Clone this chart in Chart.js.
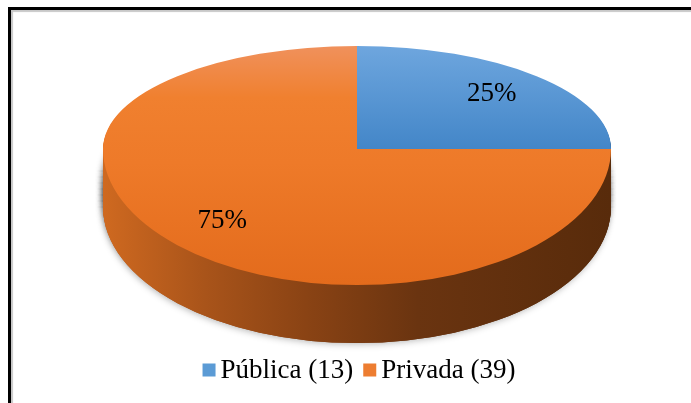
<!DOCTYPE html>
<html>
<head>
<meta charset="utf-8">
<script src="https://cdn.jsdelivr.net/npm/chart.js@4.4.1/dist/chart.umd.min.js"></script>
<style>
    html, body { margin: 0; padding: 0; background: #fff; }
    #wrap { position: relative; width: 691px; height: 403px; overflow: hidden; }
    #frame {
        position: absolute; left: 8px; top: 7px; width: 720px; height: 440px;
        border-top: 3px solid #000; border-left: 3px solid #000;
        box-shadow: inset 2px 2px 1px #c8c8c8;
    }
    canvas { position: absolute; left: 0; top: 0; }
</style>
</head>
<body>
<div id="wrap">
    <div id="frame"></div>
    <canvas id="chartTipo"></canvas>
</div>
<script>
// Dados do gráfico
var categorias = ['Pública', 'Privada'];
var quantidades = [13, 39];
var coresLegenda = ['#5b9bd5', '#ed7d31'];

// geometria do "3D" (elipse do topo e espessura)
var geo = { x: 357, y: 149, rx: 254, ryTop: 103, ryBot: 136, depth: 58, labelFrac: 0.75 };
var fonte = '27px "Liberation Serif", "Times New Roman", serif';

var rotulos = categorias.map(function (c, i) { return c + ' (' + quantidades[i] + ')'; });
var total = quantidades.reduce(function (a, b) { return a + b; }, 0);

var pie3d = {
    id: 'pie3d',
    beforeDatasetsDraw: function (chart) {
        var ctx = chart.ctx;
        var arcs = chart.getDatasetMeta(0).data;
        if (!arcs.length) return false;
        var cx = arcs[0].x, cy = arcs[0].y, R = arcs[0].outerRadius;
        var W = chart.width, H = chart.height;

        function paint(arc, fill) {
            var o = arc.options, keep = o.backgroundColor;
            o.backgroundColor = fill;
            arc.draw(ctx);
            o.backgroundColor = keep;
        }
        function half(top, dy, fills) {
            ctx.save();
            ctx.beginPath();
            if (top) ctx.rect(0, -10, W, geo.y + dy + 10.5);
            else ctx.rect(0, geo.y + dy - 0.5, W, H);
            ctx.clip();
            ctx.translate(geo.x, geo.y + dy);
            ctx.scale(geo.rx / R, (top ? geo.ryTop : geo.ryBot) / R);
            ctx.translate(-cx, -cy);
            arcs.forEach(function (arc, i) { paint(arc, fills[i]); });
            ctx.restore();
        }

        // lateral (espessura)
        var side = ctx.createLinearGradient(cx - R, 0, cx + R, 0);
        side.addColorStop(0, '#cf6920');
        side.addColorStop(0.2, '#a9541a');
        side.addColorStop(0.4, '#8a4314');
        side.addColorStop(0.62, '#6a3410');
        side.addColorStop(1, '#582b0b');
        var sideBlue = ctx.createLinearGradient(cx - R, 0, cx + R, 0);
        sideBlue.addColorStop(0, '#3a6a9a');
        sideBlue.addColorStop(1, '#1f3d5c');
        var sideFills = [sideBlue, side];

        // sombra suave em volta da lateral
        ctx.save();
        ctx.shadowColor = 'rgba(0,0,0,0.22)';
        ctx.shadowBlur = 6;
        ctx.shadowOffsetY = 2;
        ctx.shadowOffsetX = -1;
        for (var s = geo.depth; s >= 20; s -= 6) {
            half(true, s, sideFills);
            half(false, s, sideFills);
        }
        ctx.restore();

        for (var d = geo.depth; d >= 1; d--) {
            half(true, d, sideFills);
            half(false, d, sideFills);
        }

        // topo
        var gBlue = ctx.createLinearGradient(0, cy - R, 0, cy + R);
        gBlue.addColorStop(0, '#6ea6de');
        gBlue.addColorStop(0.5, '#4386c8');
        gBlue.addColorStop(1, '#3a78b8');
        var gOrange = ctx.createLinearGradient(0, cy - R, 0, cy + R);
        gOrange.addColorStop(0, '#f0915c');
        gOrange.addColorStop(0.25, '#f0802f');
        gOrange.addColorStop(0.55, '#ee7a29');
        gOrange.addColorStop(1, '#e36b1c');
        var topFills = [gBlue, gOrange];
        half(true, 0, topFills);
        half(false, 0, topFills);

        // percentuais
        ctx.save();
        ctx.font = fonte;
        ctx.fillStyle = '#000';
        ctx.textAlign = 'center';
        ctx.textBaseline = 'middle';
        arcs.forEach(function (arc, i) {
            var a = (arc.startAngle + arc.endAngle) / 2;
            var px = Math.cos(a) * geo.labelFrac;
            var py = Math.sin(a) * geo.labelFrac;
            var X = geo.x + px * geo.rx;
            var Y = geo.y + py * (py < 0 ? geo.ryTop : geo.ryBot);
            ctx.fillText(Math.round(quantidades[i] / total * 100) + '%', X, Y);
        });
        ctx.restore();
        return false;
    },
    afterDraw: function (chart) {
        // legenda embaixo
        var ctx = chart.ctx;
        var box = 13, gap = 5, sp = 10, centro = 359, yMeio = 370;
        ctx.save();
        ctx.font = fonte;
        ctx.textBaseline = 'middle';
        ctx.textAlign = 'left';
        var larguras = rotulos.map(function (t) { return ctx.measureText(t).width; });
        var totalW = larguras.reduce(function (s, w) { return s + box + gap + w; }, 0) + sp * (rotulos.length - 1);
        var x = centro - totalW / 2;
        rotulos.forEach(function (t, i) {
            ctx.fillStyle = coresLegenda[i];
            ctx.fillRect(x, yMeio - box / 2, box, box);
            ctx.fillStyle = '#000';
            ctx.fillText(t, x + box + gap, yMeio + 1);
            x += box + gap + larguras[i] + sp;
        });
        ctx.restore();
    }
};

var chartTipo = new Chart(document.getElementById('chartTipo').getContext('2d'), {
    type: 'pie',
    data: {
        labels: rotulos,
        datasets: [{
            data: quantidades,
            backgroundColor: coresLegenda,
            borderWidth: 0
        }]
    },
    options: {
        responsive: true,
        maintainAspectRatio: false,
        animation: false,
        events: [],
        layout: { padding: { left: 10, right: 0, top: 10, bottom: 60 } },
        plugins: {
            tooltip: { enabled: false },
            legend: { display: false }
        }
    },
    plugins: [pie3d]
});
</script>
</body>
</html>
